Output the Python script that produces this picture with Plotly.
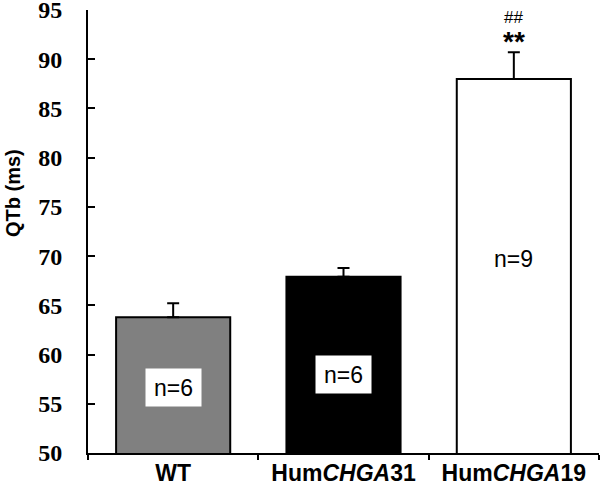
import plotly.graph_objects as go

categories = ["WT", "Hum<i>CHGA</i>31", "Hum<i>CHGA</i>19"]
qtb_means = [63.8, 67.9, 88.0]
qtb_sem = [1.4, 0.9, 2.7]
n_labels = ["n=6", "n=6", "n=9"]
n_label_y = [56.7, 57.95, 69.8]
n_label_bg = ["white", "white", "rgba(0,0,0,0)"]
bar_colors = ["#808080", "#000000", "#ffffff"]
y_ticks = [50, 55, 60, 65, 70, 75, 80, 85, 90, 95]

fig = go.Figure()
fig.add_trace(go.Bar(
    x=categories, y=qtb_means,
    marker=dict(color=bar_colors, line=dict(color="black", width=2)),
    width=0.67,
    error_y=dict(type="data", symmetric=False, array=qtb_sem,
                 arrayminus=[0, 0, 0], color="black", thickness=2, width=6),
    showlegend=False,
))

for c, t, yy, bg in zip(categories, n_labels, n_label_y, n_label_bg):
    fig.add_annotation(x=c, y=yy, text=t, showarrow=False,
                       font=dict(family="Liberation Sans, Arial", size=23, color="black"),
                       bgcolor=bg, width=55, height=37, borderpad=0)

fig.add_annotation(x=categories[2], y=91.75, text="<b>**</b>", showarrow=False,
                   font=dict(family="Liberation Sans, Arial", size=28, color="black"))
fig.add_annotation(x=categories[2], y=94.2, text="##", showarrow=False,
                   font=dict(family="Liberation Sans, Arial", size=17, color="black"))

fig.add_annotation(xref="paper", yref="paper", x=(13 - 88) / 511, y=(453 - 193) / 443,
                   xanchor="center", yanchor="middle",
                   text="QTb (ms)", textangle=-90, showarrow=False,
                   font=dict(family="Liberation Sans, Arial", size=20, color="black", weight="bold"))

fig.update_layout(
    width=600, height=483,
    margin=dict(l=88, r=1, t=10, b=30),
    plot_bgcolor="white", paper_bgcolor="white",
)
fig.update_xaxes(
    automargin=False,
    showline=True, linecolor="black", linewidth=2,
    ticks="outside", tickson="boundaries", ticklen=5, tickcolor="black", tickwidth=2,
    ticklabelstandoff=-2,
    tickfont=dict(family="Liberation Sans, Arial", size=23, color="black", weight="bold"),
    range=[-0.5, 2.5],
)
fig.update_yaxes(
    automargin=False,
    range=[50, 95], tickvals=y_ticks,
    showline=True, linecolor="black", linewidth=2,
    ticks="inside", ticklen=7, tickcolor="black", tickwidth=2,
    showgrid=False, zeroline=False, ticklabelstandoff=19, ticklabeloverflow="allow",
    tickfont=dict(family="Liberation Serif, Times New Roman", size=24, color="black", weight="bold"),
)

fig.write_html("out.html", config={"displayModeBar": False},
               post_script="document.body.style.margin='0px';")
